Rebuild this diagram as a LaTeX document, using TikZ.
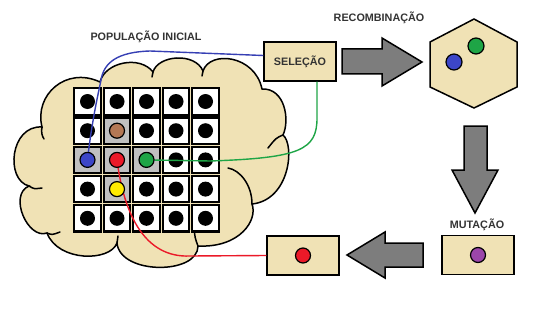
\documentclass[tikz,border=0pt]{standalone}
\usepackage{fontspec}
\setmainfont{Liberation Sans}
\usepackage{tikz}
\usetikzlibrary{calc}

\definecolor{areia}{RGB}{240,226,181}
\definecolor{cinza}{RGB}{192,192,192}
\definecolor{setacor}{RGB}{125,125,125}
\definecolor{azul}{RGB}{60,70,200}
\definecolor{vermelho}{RGB}{235,25,40}
\definecolor{verde}{RGB}{30,165,70}
\definecolor{marrom}{RGB}{180,120,85}
\definecolor{amarelo}{RGB}{255,235,0}
\definecolor{roxo}{RGB}{155,70,170}

\begin{document}
\begin{tikzpicture}[x=1pt,y=-1pt,
  nuvem/.style={draw=black,line width=1.5pt,fill=areia},
  dobra/.style={draw=black,line width=1.5pt,line cap=round},
  celula/.style={draw=black,line width=2.2pt,fill=white,minimum size=26.3pt,inner sep=0pt},
  ponto/.style={circle,draw=black,line width=1.2pt,minimum size=15pt,inner sep=0pt},
  caixa/.style={draw=black,line width=1.5pt,fill=areia,minimum width=72pt,minimum height=39pt,inner sep=0pt},
  seta/.style={draw=black,line width=1.5pt,fill=setacor,line join=miter},
  fio/.style={line width=1.4pt},
  rotulo/.style={font=\fontsize{10.8}{13}\selectfont\bfseries,text=black!80}]
\useasboundingbox (0,0) rectangle (534,310);

% nuvem da populacao
\draw[nuvem] (42,127)
  .. controls (34,95) and (66,66) .. (100,82)
  .. controls (105,62) and (140,55) .. (153,72)
  .. controls (158,55) and (195,52) .. (203,71)
  .. controls (210,50) and (255,55) .. (262,89)
  .. controls (285,88) and (290,120) .. (283,135)
  .. controls (295,145) and (290,200) .. (252,204)
  .. controls (258,220) and (240,248) .. (198,246)
  .. controls (198,275) and (120,275) .. (117,243)
  .. controls (110,262) and (58,262) .. (47,233)
  .. controls (28,240) and (8,195) .. (29,186)
  .. controls (5,180) and (10,125) .. (42,127) -- cycle;
\draw[dobra] (42,127) .. controls (41,132) and (42,136) .. (44,139);
\draw[dobra] (29,186) .. controls (34,189) .. (42,188);
\draw[dobra] (47,233) .. controls (52,235) .. (60,232);
\draw[dobra] (117,243) .. controls (117,240) .. (118,236);
\draw[dobra] (198,246) .. controls (195,238) .. (194,228);
\draw[dobra] (252,204) .. controls (252,185) and (240,170) .. (228,168);
\draw[dobra] (283,135) .. controls (276,138) .. (268,148);
\draw[dobra] (203,71) -- (202,76);
\draw[dobra] (153,72) -- (152,77);

% grade 5x5
\foreach \r in {0,...,4}
  \foreach \c in {0,...,4} {
    \node[celula] (c-\r-\c) at (87.5+29.5*\c,101.5+29.2*\r) {};
    \fill (c-\r-\c) circle (7.5pt);
  }
\foreach \r/\c in {1/1,2/0,2/1,2/2,3/1}
  \node[celula,fill=cinza] at (c-\r-\c) {};

\node[rotulo] (pop) at (146,37) {POPULAÇÃO INICIAL};
\node[caixa,rotulo] (selecao) at (300,61.5) {SELEÇÃO};
\node[caixa] (final) at (303,255.5) {};
\node[caixa] (mutacao) at (478,255) {};
\node[rotulo] (recomb) at (379,18) {RECOMBINAÇÃO};
\node[rotulo] (mut) at (477,225) {MUTAÇÃO};

% fios dos escolhidos
\draw[fio,azul!90!black] (c-2-0.center) .. controls (92,120) and (98,95) .. (101,80)
  .. controls (104,62) and (118,52) .. (150,51) -- ($(selecao.west)+(0,-6)$);
\draw[fio,verde] (c-2-2.center) -- (210,161) .. controls (300,158) and (317,150) .. (317,118)
  -- ($(selecao.south)+(17,0)$);
\draw[fio,vermelho] (c-2-1.center) .. controls (124,215) and (145,258) .. (190,256) -- (final.west);

% individuos
\node[ponto,fill=marrom] (marrom) at (c-1-1) {};
\node[ponto,fill=amarelo] (amarelo) at (c-3-1) {};
\node[ponto,fill=azul] (azul) at (c-2-0) {};
\node[ponto,fill=vermelho] (vermelho) at (c-2-1) {};
\node[ponto,fill=verde] (verde) at (c-2-2) {};

% hexagono da recombinacao
\draw[nuvem] (474,19) -- (517,42) -- (517,87) -- (474,108) -- (430,87) -- (430,42) -- cycle;
\node[ponto,fill=azul,minimum size=16pt] (filho1) at (454,62) {};
\node[ponto,fill=verde,minimum size=16pt] (filho2) at (476,46) {};

\node[ponto,fill=roxo] (mutado) at (mutacao.center) {};
\node[ponto,fill=vermelho] (novo) at (final.center) {};

% setas grandes
\draw[seta] (342,49) -- (382,49) -- (382,38) -- (422,62) -- (382,86) -- (382,74) -- (342,74) -- cycle;
\draw[seta] (464,126) -- (487,126) -- (487,170) -- (498,170) -- (475,213) -- (452,170) -- (464,170) -- cycle;
\draw[seta] (423,243) -- (385,243) -- (385,232) -- (347,255) -- (385,278) -- (385,267) -- (423,267) -- cycle;
\end{tikzpicture}
\end{document}
